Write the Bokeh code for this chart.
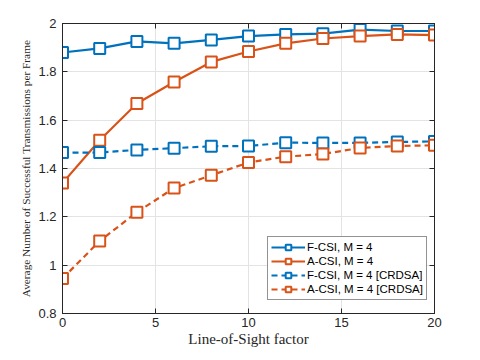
from bokeh.plotting import figure
from bokeh.models import LinearAxis, Legend, LegendItem, Range1d, FixedTicker
from bokeh.embed import file_html
from bokeh.resources import INLINE

x = [0, 2, 4, 6, 8, 10, 12, 14, 16, 18, 20]
f_csi = [1.880, 1.897, 1.926, 1.918, 1.932, 1.948, 1.955, 1.958, 1.975, 1.969, 1.969]
a_csi = [1.340, 1.517, 1.669, 1.758, 1.841, 1.884, 1.918, 1.938, 1.948, 1.955, 1.952]
f_crdsa = [1.466, 1.466, 1.477, 1.484, 1.492, 1.493, 1.507, 1.506, 1.506, 1.510, 1.512]
a_crdsa = [0.945, 1.100, 1.219, 1.319, 1.372, 1.425, 1.449, 1.460, 1.485, 1.493, 1.496]
labels = ["F-CSI, M = 4", "A-CSI, M = 4", "F-CSI, M = 4 [CRDSA]", "A-CSI, M = 4 [CRDSA]"]
x_ticks = [0, 5, 10, 15, 20]
y_ticks = [0.8, 1.0, 1.2, 1.4, 1.6, 1.8, 2.0]

BLUE = "#0072BD"
ORANGE = "#D95319"
AX = "#262626"

p = figure(frame_width=372, frame_height=290, output_backend="svg", toolbar_location=None,
           x_range=Range1d(0, 20), y_range=Range1d(0.8, 2.0),
           min_border_left=62, min_border_right=30, min_border_top=23, min_border_bottom=31)
p.outline_line_color = AX
p.outline_line_width = 1

for ax in (p.xaxis[0], p.yaxis[0]):
    ax.axis_line_color = AX
    ax.major_tick_line_color = AX
    ax.major_tick_in = 5
    ax.major_tick_out = 0
    ax.minor_tick_line_color = None
    ax.major_label_text_font = "Liberation Sans"
    ax.major_label_text_font_size = "13px"
    ax.major_label_text_color = AX
    ax.axis_label_text_font = "Liberation Serif"
    ax.axis_label_text_font_style = "normal"
    ax.axis_label_text_color = AX

p.xaxis.ticker = FixedTicker(ticks=x_ticks)
p.yaxis.ticker = FixedTicker(ticks=y_ticks)
p.yaxis.major_label_overrides = {0.8: "0.8", 1.0: "1", 1.2: "1.2", 1.4: "1.4", 1.6: "1.6", 1.8: "1.8", 2.0: "2"}
p.xaxis.axis_label = "Line-of-Sight factor"
p.xaxis.axis_label_text_font_size = "15px"
p.xaxis.axis_label_standoff = 1
p.yaxis.axis_label = "Average Number of Successful Transmissions per Frame"
p.yaxis.axis_label_text_font_size = "11.3px"
p.yaxis.axis_label_standoff = 3
p.xaxis.major_label_standoff = 4
p.yaxis.major_label_standoff = 6

for side, ticks in (("right", y_ticks), ("above", x_ticks)):
    a = LinearAxis(ticker=FixedTicker(ticks=ticks))
    a.major_label_overrides = {t: "" for t in ticks}
    a.major_label_text_font_size = "1px"
    a.major_label_standoff = 0
    a.major_tick_in = 5
    a.major_tick_out = 0
    a.minor_tick_line_color = None
    a.axis_line_color = AX
    a.major_tick_line_color = AX
    p.add_layout(a, side)

p.xgrid.grid_line_color = "#e3e3e3"
p.ygrid.grid_line_color = "#e3e3e3"

items = []
series = [(f_csi, BLUE, "solid"), (a_csi, ORANGE, "solid"),
          (f_crdsa, BLUE, "6 4"), (a_crdsa, ORANGE, "6 4")]
for (ys, c, dash), lab in zip(series, labels):
    l = p.line(x, ys, line_color=c, line_width=2.2, line_dash=dash)
    m = p.scatter(x, ys, marker="square", size=11, line_color=c, line_width=2, fill_color="white")
    items.append(LegendItem(label=lab, renderers=[l, m]))

leg = Legend(items=items, location=(205, 13))
leg.label_text_font = "Liberation Sans"
leg.label_text_font_size = "11.5px"
leg.label_text_color = "black"
leg.label_standoff = 2
leg.glyph_width = 34
leg.glyph_height = 14
leg.label_height = 14
leg.spacing = 0
leg.padding = 3
leg.margin = 0
leg.border_line_color = AX
leg.border_line_width = 1
leg.background_fill_alpha = 1
p.add_layout(leg, "center")

open("out.html", "w").write(file_html(p, INLINE))
